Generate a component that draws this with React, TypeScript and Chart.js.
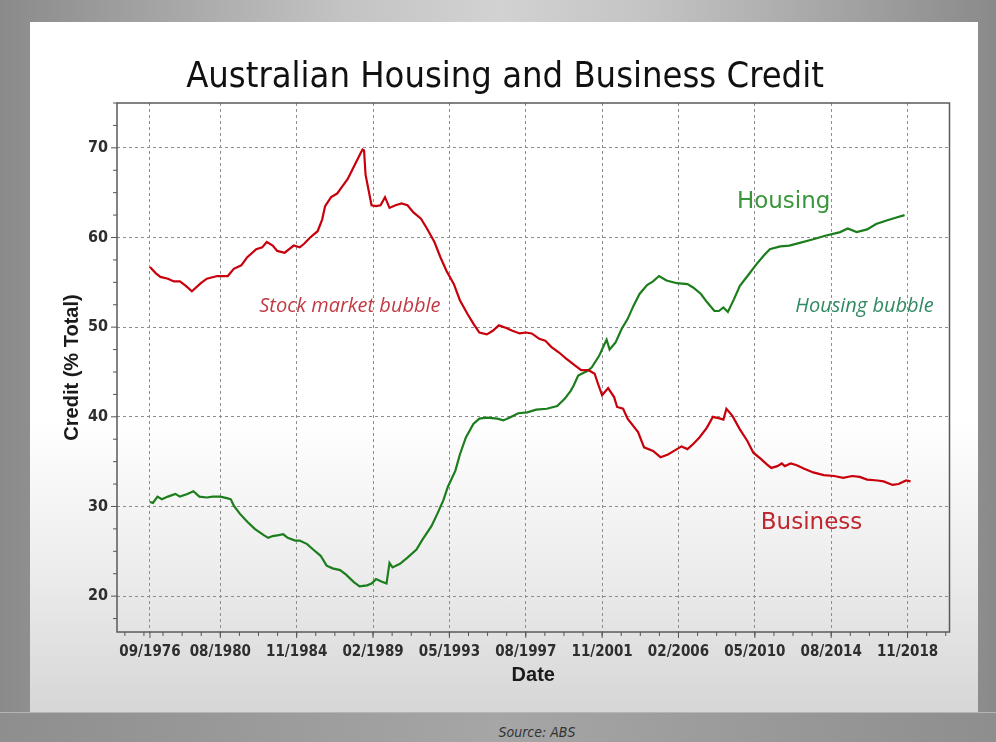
import React, { useEffect, useRef } from "react";
import { Chart, registerables } from "chart.js";

Chart.register(...registerables);

// ---- data (dates as YYYY-MM, values in % of total credit) ----
const businessDates = [
  "1976-09","1977-01","1977-04","1977-09","1978-01","1978-05","1978-09","1979-01","1979-07","1979-11",
  "1980-06","1981-01","1981-05","1981-10","1982-02","1982-08","1982-12","1983-03","1983-07","1983-10",
  "1984-03","1984-06","1984-09","1985-01","1985-04","1985-08","1986-01","1986-04","1986-06","1986-10",
  "1987-02","1987-05","1987-09","1987-12","1988-03","1988-06","1988-07","1988-08","1988-09","1989-01",
  "1989-04","1989-07","1989-10","1990-01","1990-05","1990-09","1991-01","1991-05","1991-10","1992-02",
  "1992-07","1992-11","1993-03","1993-08","1993-12","1994-05","1994-09","1995-01","1995-06","1995-10",
  "1996-02","1996-07","1996-11","1997-04","1997-08","1997-12","1998-05","1998-09","1999-01","1999-06",
  "1999-11","2000-05","2000-09","2001-02","2001-06","2001-08","2001-11","2002-03","2002-07","2002-09",
  "2003-01","2003-04","2003-11","2004-03","2004-09","2005-02","2005-07","2005-11","2006-04","2006-08",
  "2006-12","2007-04","2007-09","2008-01","2008-06","2008-08","2008-10","2009-02","2009-07","2009-12",
  "2010-04","2010-09","2011-01","2011-04","2011-08","2011-11","2012-01","2012-05","2012-09","2013-02",
  "2013-08","2014-03","2014-10","2015-04","2015-10","2016-03","2016-08","2017-03","2017-07","2018-01",
  "2018-05","2018-10","2019-01"
];
const businessValues = [
  56.7,56.0,55.6,55.4,55.1,55.1,54.6,54.0,54.9,55.4,
  55.7,55.7,56.5,56.9,57.8,58.7,58.9,59.5,59.1,58.5,
  58.3,58.7,59.1,58.9,59.3,60.0,60.7,62.0,63.5,64.5,
  64.9,65.6,66.5,67.5,68.5,69.5,69.8,69.7,67.0,63.6,
  63.5,63.6,64.5,63.3,63.6,63.8,63.6,62.8,62.1,61.0,
  59.5,57.8,56.3,54.8,53.0,51.5,50.4,49.4,49.2,49.6,
  50.2,49.9,49.6,49.3,49.4,49.3,48.7,48.5,47.8,47.2,
  46.5,45.7,45.2,45.2,44.8,43.8,42.4,43.2,42.2,41.1,
  40.9,39.8,38.3,36.6,36.2,35.5,35.8,36.2,36.7,36.4,
  37.0,37.7,38.8,40.0,39.8,39.7,40.9,40.1,38.6,37.3,
  36.0,35.3,34.7,34.3,34.5,34.8,34.5,34.8,34.6,34.2,
  33.8,33.5,33.4,33.2,33.4,33.3,33.0,32.9,32.8,32.4,
  32.5,32.9,32.8
];

const housingDates = [
  "1976-09","1976-11","1977-02","1977-05","1977-09","1978-02","1978-05","1978-10","1979-02","1979-06",
  "1979-11","1980-03","1980-08","1981-01","1981-03","1981-05","1981-09","1982-02","1982-07","1983-01",
  "1983-04","1983-07","1983-11","1984-02","1984-05","1984-10","1985-01","1985-06","1985-10","1986-03",
  "1986-07","1986-11","1987-04","1987-08","1988-01","1988-05","1988-10","1989-01","1989-04","1989-08",
  "1989-11","1990-01","1990-03","1990-08","1991-01","1991-07","1991-11","1992-05","1992-09","1993-01",
  "1993-04","1993-09","1993-12","1994-04","1994-09","1995-01","1995-06","1996-01","1996-05","1996-09",
  "1997-03","1997-09","1998-03","1998-10","1999-05","1999-10","2000-02","2000-04","2000-07","2001-01",
  "2001-04","2001-09","2001-12","2002-02","2002-04","2002-08","2002-12","2003-04","2003-08","2003-12",
  "2004-05","2004-09","2005-01","2005-06","2006-01","2006-08","2006-12","2007-05","2007-09","2008-02",
  "2008-05","2008-08","2008-11","2009-03","2009-07","2010-01","2010-06","2010-11","2011-03","2011-10",
  "2012-04","2012-11","2013-08","2014-04","2015-02","2015-07","2016-01","2016-08","2017-02","2017-09",
  "2018-03","2018-09"
];
const housingValues = [
  30.5,30.4,31.1,30.8,31.1,31.4,31.1,31.4,31.7,31.1,
  31.0,31.1,31.1,30.9,30.8,30.1,29.2,28.3,27.5,26.8,
  26.5,26.7,26.8,26.9,26.5,26.2,26.2,25.8,25.2,24.5,
  23.4,23.1,22.9,22.4,21.6,21.1,21.2,21.4,21.9,21.6,
  21.4,23.7,23.2,23.6,24.3,25.2,26.3,27.8,29.2,30.7,
  32.2,34.0,35.8,37.7,39.2,39.8,39.9,39.8,39.6,39.9,
  40.4,40.5,40.8,40.9,41.2,42.0,42.9,43.5,44.6,45.1,
  45.5,46.8,47.9,48.6,47.5,48.3,49.8,50.9,52.4,53.7,
  54.7,55.1,55.7,55.2,54.9,54.8,54.4,53.7,52.8,51.8,
  51.8,52.2,51.7,53.1,54.6,55.9,57.0,58.0,58.7,59.0,
  59.1,59.4,59.8,60.2,60.6,61.0,60.6,60.9,61.5,61.9,
  62.2,62.5
];

const xTickLabels = ["09/1976","08/1980","11/1984","02/1989","05/1993","08/1997","11/2001","02/2006","05/2010","08/2014","11/2018"];
const yTickValues = [20, 30, 40, 50, 60, 70];

const TITLE = "Australian Housing and Business Credit";
const X_TITLE = "Date";
const Y_TITLE = "Credit (% Total)";
const SOURCE = "Source: ABS";

// ---- helpers ----
const BASE_YEAR = 1976;
const BASE_MONTH = 9;
function monthIndexFromYM(s: string): number {
  const [y, m] = s.split("-").map(Number);
  return (y - BASE_YEAR) * 12 + (m - BASE_MONTH);
}
function monthIndexFromLabel(s: string): number {
  const [m, y] = s.split("/").map(Number);
  return (y - BASE_YEAR) * 12 + (m - BASE_MONTH);
}
function toPoints(dates: string[], values: number[]) {
  return dates.map((d, i) => ({ x: monthIndexFromYM(d), y: values[i] }));
}

const CONDENSED = '"DejaVu Sans Condensed", "Liberation Sans Narrow", "DejaVu Sans", sans-serif';

const annotations = [
  { text: "Stock market bubble", x: monthIndexFromYM("1982-10"), y: 52.3, color: "#c23a44", font: 'italic 20px "Open Sans", sans-serif' },
  { text: "Housing bubble", x: monthIndexFromYM("2012-08"), y: 52.3, color: "#2f8a62", font: 'italic 20px "Open Sans", sans-serif' },
  { text: "Housing", x: monthIndexFromYM("2009-05"), y: 63.9, color: "#3a963a", font: '23px "DejaVu Sans", sans-serif' },
  { text: "Business", x: monthIndexFromYM("2010-09"), y: 28.2, color: "#c0262e", font: '23px "DejaVu Sans", sans-serif' },
];

const decorPlugin = {
  id: "decor",
  afterDatasetsDraw(chart: any) {
    const { ctx, chartArea, scales } = chart;
    const xs = scales.x;
    const ys = scales.y;
    ctx.save();
    // frame
    ctx.strokeStyle = "#5a5a5a";
    ctx.lineWidth = 1.5;
    ctx.setLineDash([]);
    ctx.strokeRect(chartArea.left, chartArea.top, chartArea.right - chartArea.left, chartArea.bottom - chartArea.top);
    // x ticks (major + minor)
    ctx.lineWidth = 1;
    ctx.strokeStyle = "#555";
    const majors = xTickLabels.map(monthIndexFromLabel);
    const minorStep = (majors[2] - majors[1]) / 4;
    for (let v = majors[1] - minorStep * 8; v <= xs.max; v += minorStep) {
      if (v < xs.min) continue;
      const px = xs.getPixelForValue(v);
      ctx.beginPath();
      ctx.moveTo(px, chartArea.bottom);
      ctx.lineTo(px, chartArea.bottom + 4);
      ctx.stroke();
    }
    majors.forEach((v) => {
      const px = xs.getPixelForValue(v);
      ctx.beginPath();
      ctx.moveTo(px, chartArea.bottom);
      ctx.lineTo(px, chartArea.bottom + 6);
      ctx.stroke();
    });
    // y ticks
    for (let v = 17.5; v <= ys.max; v += 2.5) {
      const py = ys.getPixelForValue(v);
      const major = Math.abs(v % 10) < 0.01;
      ctx.beginPath();
      ctx.moveTo(chartArea.left, py);
      ctx.lineTo(chartArea.left - (major ? 6 : 4), py);
      ctx.stroke();
    }
    // annotations
    ctx.textAlign = "left";
    ctx.textBaseline = "middle";
    annotations.forEach((a) => {
      ctx.font = a.font;
      ctx.fillStyle = a.color;
      ctx.fillText(a.text, xs.getPixelForValue(a.x), ys.getPixelForValue(a.y));
    });
    ctx.restore();
  },
};

export default function App() {
  const canvasRef = useRef<HTMLCanvasElement | null>(null);

  useEffect(() => {
    if (!canvasRef.current) return;
    const chart = new Chart(canvasRef.current, {
      type: "line",
      data: {
        datasets: [
          {
            label: "Business",
            data: toPoints(businessDates, businessValues),
            borderColor: "#c8000c",
            borderWidth: 2.2,
            pointRadius: 0,
            tension: 0,
          },
          {
            label: "Housing",
            data: toPoints(housingDates, housingValues),
            borderColor: "#1b7d1b",
            borderWidth: 2.2,
            pointRadius: 0,
            tension: 0,
          },
        ],
      },
      options: {
        animation: false,
        responsive: false,
        maintainAspectRatio: false,
        layout: { padding: { left: 60.5, top: 0, right: 46.5, bottom: 0 } },
        plugins: {
          legend: { display: false },
          tooltip: { enabled: false },
          title: {
            display: true,
            text: TITLE,
            color: "#111",
            font: { family: CONDENSED, size: 36, weight: "normal", lineHeight: 1.2 },
            padding: { top: 56, bottom: 3.8 },
          },
        },
        scales: {
          x: {
            type: "linear",
            min: -22,
            max: 534,
            afterFit: (s: any) => { s.height = 110; },
            afterBuildTicks: (s: any) => {
              s.ticks = xTickLabels.map((l) => ({ value: monthIndexFromLabel(l), label: l }));
            },
            ticks: {
              autoSkip: false,
              maxRotation: 0,
              padding: 11,
              color: "#2e2e2e",
              font: { family: CONDENSED, size: 15, weight: "bold" },
              callback: (_v: any, i: number) => xTickLabels[i],
            },
            grid: { color: "#8e8e8e", lineWidth: 1, drawTicks: false },
            border: { display: false, dash: [3, 3] },
            title: {
              display: true,
              text: X_TITLE,
              color: "#1a1a1a",
              font: { family: '"Liberation Sans", Arial, sans-serif', size: 20, weight: "bold", lineHeight: 1.2 },
              padding: { top: 0, bottom: 55 },
            },
          },
          y: {
            type: "linear",
            min: 16,
            max: 75,
            afterFit: (s: any) => { s.width = 56.5; },
            afterBuildTicks: (s: any) => {
              s.ticks = yTickValues.map((v) => ({ value: v }));
            },
            ticks: {
              padding: 9,
              color: "#2e2e2e",
              font: { family: CONDENSED, size: 16, weight: "bold" },
              callback: (v: any) => String(v),
            },
            grid: { color: "#8e8e8e", lineWidth: 1, drawTicks: false },
            border: { display: false, dash: [3, 3] },
            title: {
              display: true,
              text: Y_TITLE,
              color: "#1a1a1a",
              font: { family: '"Liberation Sans", Arial, sans-serif', size: 20, weight: "bold", lineHeight: 1.2 },
              padding: { top: -0.5, bottom: 0 },
            },
          },
        },
      },
      plugins: [decorPlugin],
    } as any);
    return () => chart.destroy();
  }, []);

  return (
    <div
      style={{
        position: "fixed",
        left: 0,
        top: 0,
        width: 996,
        height: 742,
        overflow: "hidden",
        background: "linear-gradient(to right, #8a8a8a 0%, #c4c4c4 35%, #d2d2d2 50%, #c4c4c4 65%, #8a8a8a 100%)",
      }}
    >
      <div
        style={{
          position: "absolute",
          left: 30,
          top: 22,
          width: 948,
          height: 690,
          background: "linear-gradient(to bottom, #ffffff 0%, #ffffff 58%, #ececec 80%, #d6d6d6 100%)",
        }}
      />
      <div
        style={{
          position: "absolute",
          left: 0,
          top: 712,
          width: 996,
          height: 30,
          background: "linear-gradient(to right, #8e8e8e 0%, #a6a6a6 50%, #8e8e8e 100%)",
          borderTop: "1px solid #b5b5b5",
          boxSizing: "border-box",
        }}
      />
      <div
        style={{
          position: "absolute",
          left: 437,
          top: 723,
          width: 200,
          textAlign: "center",
          font: 'italic 14px "DejaVu Sans Condensed", "DejaVu Sans", sans-serif',
          color: "#333",
          lineHeight: "18px",
        }}
      >
        {SOURCE}
      </div>
      <canvas
        ref={canvasRef}
        width={996}
        height={742}
        style={{ position: "absolute", left: 0, top: 0, width: 996, height: 742 }}
      />
    </div>
  );
}
